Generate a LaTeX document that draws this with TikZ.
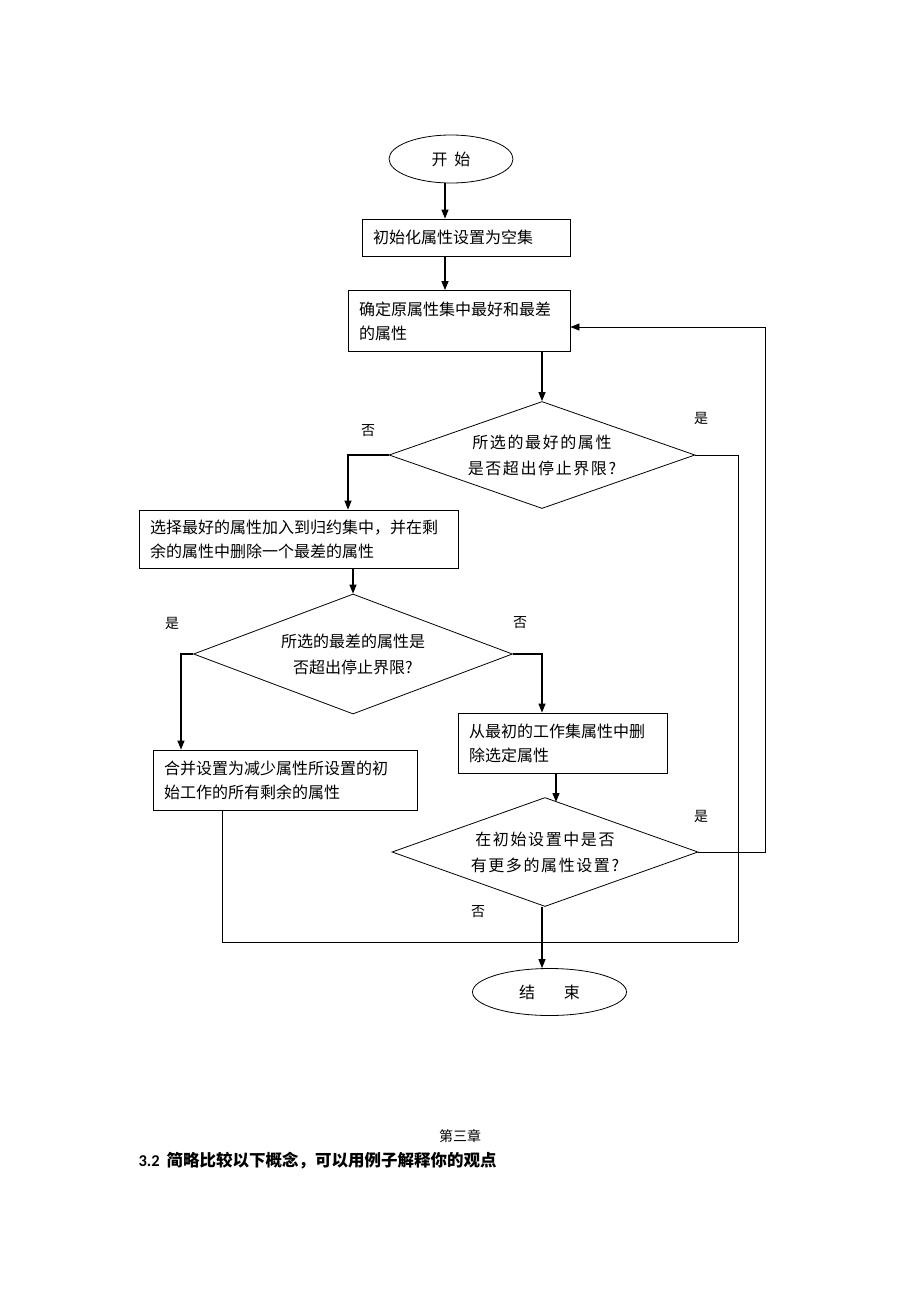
\documentclass[tikz,border=0pt]{standalone}
\usepackage{fontspec}
\usetikzlibrary{shapes.geometric,arrows.meta}
\newfontfamily\cjk{Noto Sans CJK SC}
\newfontfamily\cjkwide[LetterSpace=10]{Noto Sans CJK SC}
\newfontfamily\carl{Carlito}
\begin{document}
\begin{tikzpicture}[x=1pt,y=-1pt,
  every node/.style={font=\cjk\fontsize{16}{24}\selectfont},
  pbox/.style={draw,line width=0.8pt,rectangle,inner xsep=11pt,inner ysep=0pt,align=left},
  pdia/.style={draw,line width=0.8pt,diamond,inner sep=0pt},
  dtxt/.style={align=center,inner sep=0pt},
  pell/.style={draw,line width=0.8pt,ellipse,inner sep=0pt},
  arr/.style={line width=1.2pt,-{Triangle[length=9pt,width=7pt]}},
  ln/.style={line width=0.8pt},
  lbl/.style={font=\cjk\fontsize{14}{16}\selectfont}]
\useasboundingbox (0,0) rectangle (920,1302);
\fill[white] (0,0) rectangle (920,1302);

% nodes
\node[pell,minimum width=124pt,minimum height=48pt] (start) at (451,159) {开\hspace{7pt}始};
\node[pbox,minimum width=208pt,minimum height=37pt,text width=186pt] (b1) at (466,237.5) {初始化属性设置为空集};
\node[pbox,minimum width=222pt,minimum height=61pt,text width=200pt] (b2) at (459,321) {确定原属性集中最好和最差\\的属性};
\node[pdia,minimum width=306pt,minimum height=107pt] (d1) at (542,455) {};
\node[dtxt,font=\cjkwide\fontsize{16}{26}\selectfont] (t1) at (d1) {所选的最好的属性\\是否超出停止界限?};
\node[pbox,minimum width=319pt,minimum height=58pt,text width=297pt] (b3) at (298.5,539) {选择最好的属性加入到归约集中，并在剩\\余的属性中删除一个最差的属性};
\node[pdia,minimum width=319pt,minimum height=120pt] (d2) at (353,654) {};
\node[dtxt,font=\cjk\fontsize{16}{26}\selectfont] (t2) at (d2) {所选的最差的属性是\\否超出停止界限?};
\node[pbox,minimum width=209pt,minimum height=60pt,text width=187pt] (b4) at (562.5,743) {从最初的工作集属性中删\\除选定属性};
\node[pbox,minimum width=264pt,minimum height=60pt,text width=242pt] (b5) at (285,780) {合并设置为减少属性所设置的初\\始工作的所有剩余的属性};
\node[pdia,minimum width=306pt,minimum height=109pt] (d3) at (545,852) {};
\node[dtxt,font=\cjkwide\fontsize{16}{26}\selectfont] (t3) at (d3) {在初始设置中是否\\有更多的属性设置?};
\node[pell,minimum width=154pt,minimum height=47pt] (e) at (549.5,992) {结\hspace{29pt}束};

% labels
\node[lbl] (l1) at (368,431) {否};
\node[lbl] (l2) at (701,418) {是};
\node[lbl] (l3) at (172,623) {是};
\node[lbl] (l4) at (520,623) {否};
\node[lbl] (l5) at (701,816) {是};
\node[lbl] (l6) at (478,912) {否};

% helper coordinates
\coordinate (c1) at (445,0);
\coordinate (c3) at (348,0);
\coordinate (c6) at (181,0);
\coordinate (c5) at (222,0);
\coordinate (c7) at (556,802);
\coordinate (c8) at (542,0);
\coordinate (jR) at (738,942);
\coordinate (cL) at (765,327);

% connectors
\draw[arr] (start.south -| c1) -- (b1.north -| c1);
\draw[arr] (b1.south -| c1) -- (b2.north -| c1);
\draw[arr] (b2.south -| d1.north) -- (d1.north);
\draw[arr] (d1.west) -| (b3.north -| c3);
\draw[arr] (b3.south -| d2.north) -- (d2.north);
\draw[arr] (d2.west) -| (b5.north -| c6);
\draw[arr] (d2.east) -| (b4.north -| c8);
\draw[arr] (b4.south -| c7) -- (c7);
\draw[ln] (d1.east) -| (jR);
\draw[ln] (b5.south -| c5) |- (jR);
\draw[arr] (d3.south -| c8) -- (e.north -| c8);
\draw[ln] (d3.east) -| (cL);
\draw[arr,line width=0.8pt] (cL) -- (b2.east |- cL);

% page text
\node[font=\cjk\fontsize{14}{16}\selectfont] (ch) at (460,1136) {第三章};
\node[anchor=west,font=\cjk\bfseries\fontsize{16.5}{18}\selectfont] (q) at (135,1161) {{\carl\bfseries 3.2}\hspace{7pt}简略比较以下概念，可以用例子解释你的观点};
\end{tikzpicture}
\end{document}
